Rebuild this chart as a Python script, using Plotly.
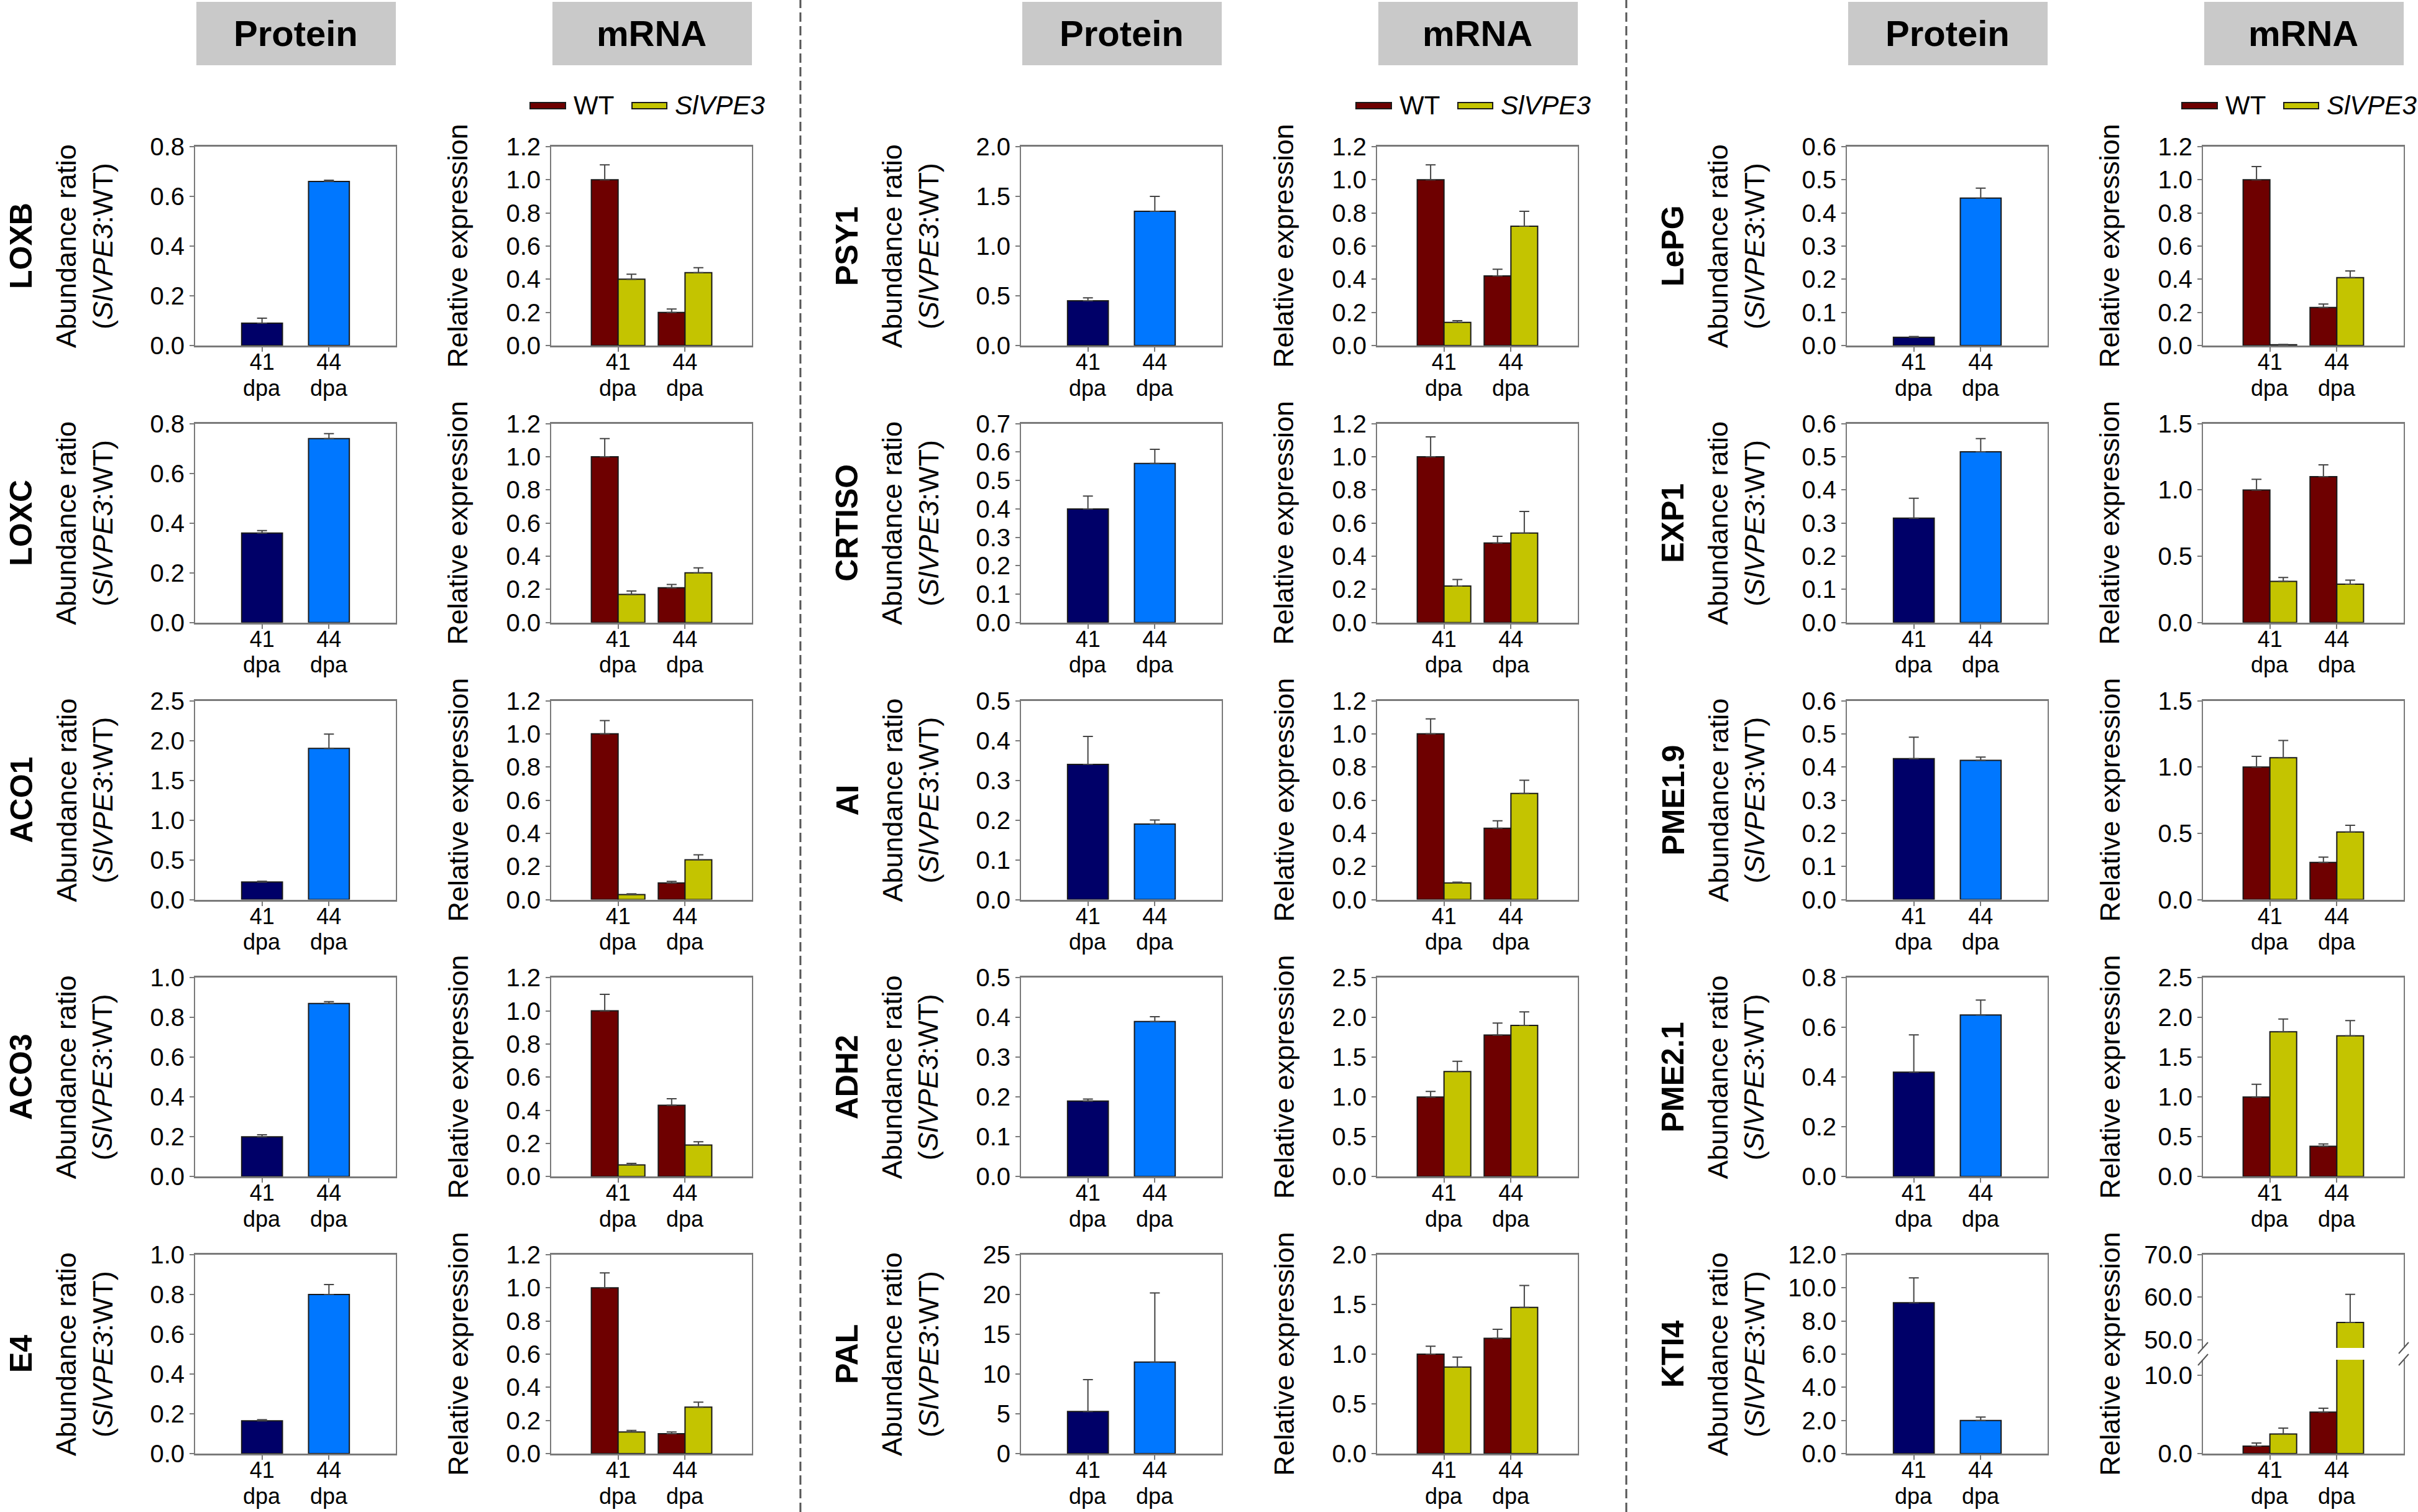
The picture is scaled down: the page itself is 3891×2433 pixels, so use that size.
import plotly.graph_objects as go

W, H = 3891, 2433
FONT = "Liberation Sans, Arial, Helvetica, sans-serif"

# ---------------- data ----------------
days = ["41", "44"]
genes = ["LOXB", "LOXC", "ACO1", "ACO3", "E4",
         "PSY1", "CRTISO", "AI", "ADH2", "PAL",
         "LePG", "EXP1", "PME1.9", "PME2.1", "KTI4"]

protein_mean = [[0.09, 0.66], [0.36, 0.74], [0.22, 1.90], [0.20, 0.87], [0.165, 0.80],
                [0.45, 1.35], [0.40, 0.56], [0.34, 0.19], [0.19, 0.39], [5.3, 11.5],
                [0.025, 0.445], [0.315, 0.515], [0.425, 0.42], [0.42, 0.65], [9.1, 2.0]]
protein_err = [[0.02, 0.005], [0.01, 0.02], [0.01, 0.18], [0.01, 0.01], [0.005, 0.05],
               [0.03, 0.15], [0.045, 0.05], [0.07, 0.01], [0.005, 0.012], [4.0, 8.7],
               [0.002, 0.03], [0.06, 0.04], [0.065, 0.01], [0.15, 0.06], [1.5, 0.2]]

wt_mean = [[1.0, 0.20], [1.0, 0.21], [1.0, 0.10], [1.0, 0.43], [1.0, 0.12],
           [1.0, 0.42], [1.0, 0.48], [1.0, 0.43], [1.0, 1.78], [1.0, 1.16],
           [1.0, 0.23], [1.0, 1.10], [1.0, 0.28], [1.0, 0.38], [0.95, 5.3]]
wt_err = [[0.09, 0.02], [0.11, 0.02], [0.08, 0.01], [0.10, 0.04], [0.09, 0.01],
          [0.09, 0.04], [0.12, 0.04], [0.09, 0.045], [0.07, 0.15], [0.08, 0.09],
          [0.08, 0.02], [0.08, 0.09], [0.08, 0.04], [0.16, 0.03], [0.4, 0.5]]
sl_mean = [[0.40, 0.44], [0.17, 0.30], [0.03, 0.24], [0.07, 0.19], [0.13, 0.28],
           [0.14, 0.72], [0.22, 0.54], [0.10, 0.64], [1.32, 1.90], [0.87, 1.47],
           [0.005, 0.41], [0.31, 0.29], [1.07, 0.51], [1.82, 1.77], [2.5, 54.1]]
sl_err = [[0.03, 0.03], [0.02, 0.03], [0.005, 0.03], [0.01, 0.02], [0.01, 0.03],
          [0.01, 0.09], [0.04, 0.13], [0.005, 0.08], [0.13, 0.17], [0.10, 0.22],
          [0.002, 0.04], [0.03, 0.03], [0.13, 0.05], [0.16, 0.19], [0.75, 6.6]]

protein_ymax = [0.8, 0.8, 2.5, 1.0, 1.0, 2.0, 0.7, 0.5, 0.5, 25, 0.6, 0.6, 0.6, 0.8, 12]
protein_dtick = [0.2, 0.2, 0.5, 0.2, 0.2, 0.5, 0.1, 0.1, 0.1, 5, 0.1, 0.1, 0.1, 0.2, 2]
mrna_ymax = [1.2, 1.2, 1.2, 1.2, 1.2, 1.2, 1.2, 1.2, 2.5, 2.0, 1.2, 1.5, 1.5, 2.5, None]
mrna_dtick = [0.2, 0.2, 0.2, 0.2, 0.2, 0.2, 0.2, 0.2, 0.5, 0.5, 0.2, 0.5, 0.5, 0.5, 10]
kti4_low_range = [0, 12]
kti4_high_range = [48.1, 70]

# ---------------- style / layout constants ----------------
NAVY, BLUE = "#000068", "#0077FF"
WT_C, SL_C = "#6E0000", "#C4C400"
OUTLINE = "#1a1a1a"
AXC = "#7a7a7a"
ERR = dict(color="#444444", thickness=2, width=8)

P_LEFT = [314, 1643, 2972]
M_LEFT = [887, 2216, 3545]
PW = 323
ROW_TOP0, ROW_STEP, PH = 236, 445.75, 320
XF = dict(family=FONT, size=36, color="black")
TICKF = dict(family=FONT, size=40, color="black")


def px(x):
    return x / W


def py(y):
    return 1 - y / H


fig = go.Figure()
layout = {}
shapes = []
annots = []
count = [0]


def axes(xl, top, bot, yrange, dtick, fmt, xkw=None, ykw=None):
    count[0] += 1
    n = count[0]
    xa = dict(domain=[px(xl), px(xl + PW)], anchor=f"y{n}", type="category",
              categoryorder="array", categoryarray=days, range=[-1, 2],
              showline=True, linecolor=AXC, linewidth=3, mirror=True,
              ticks="outside", ticklen=7, tickwidth=2, tickcolor=AXC,
              ticklabelstandoff=-14, automargin=False,
              tickfont=XF, showgrid=False, zeroline=False, fixedrange=True)
    ya = dict(domain=[py(bot), py(top)], anchor=f"x{n}", range=yrange,
              dtick=dtick, tick0=0, tickformat=fmt, automargin=False,
              showline=True, linecolor=AXC, linewidth=2, mirror=True,
              ticks="outside", ticklen=7, tickwidth=2, tickcolor=AXC,
              tickfont=TICKF, showgrid=False, zeroline=False, fixedrange=True)
    if xkw:
        xa.update(xkw)
    if ykw:
        ya.update(ykw)
    layout["xaxis" if n == 1 else f"xaxis{n}"] = xa
    layout["yaxis" if n == 1 else f"yaxis{n}"] = ya
    return ("x" if n == 1 else f"x{n}"), ("y" if n == 1 else f"y{n}")


def err(arr):
    return dict(type="data", array=arr, arrayminus=[0] * len(arr), symmetric=False, **ERR)


def mrna_traces(i, xr, yr):
    fig.add_trace(go.Bar(x=days, y=wt_mean[i], width=0.4, offset=-0.4,
                         marker=dict(color=WT_C, line=dict(color=OUTLINE, width=2)),
                         error_y=err(wt_err[i]), xaxis=xr, yaxis=yr, showlegend=False))
    fig.add_trace(go.Bar(x=days, y=sl_mean[i], width=0.4, offset=0,
                         marker=dict(color=SL_C, line=dict(color=OUTLINE, width=2)),
                         error_y=err(sl_err[i]), xaxis=xr, yaxis=yr, showlegend=False))


def dpa(xr, bot):
    for j, d in enumerate(days):
        annots.append(dict(text="dpa", x=j, xref=xr, y=py(bot + 68), yref="paper",
                           xanchor="center", yanchor="middle", showarrow=False,
                           font=XF))


for g in range(3):
    for r in range(5):
        i = g * 5 + r
        top = ROW_TOP0 + r * ROW_STEP
        bot = top + PH
        mid = (top + bot) / 2
        pfmt = "d" if genes[i] == "PAL" else ".1f"

        # protein panel
        xr, yr = axes(P_LEFT[g], top, bot, [0, protein_ymax[i]], protein_dtick[i], pfmt)
        fig.add_trace(go.Bar(x=days, y=protein_mean[i], width=0.61,
                             marker=dict(color=[NAVY, BLUE], line=dict(color=OUTLINE, width=2)),
                             error_y=err(protein_err[i]), xaxis=xr, yaxis=yr, showlegend=False))
        dpa(xr, bot)

        # mRNA panel
        if mrna_ymax[i] is not None:
            xr, yr = axes(M_LEFT[g], top, bot, [0, mrna_ymax[i]], mrna_dtick[i], ".1f")
            mrna_traces(i, xr, yr)
            dpa(xr, bot)
        else:
            low_top = bot - 151
            up_bot = top + 150
            xr, yr = axes(M_LEFT[g], low_top, bot, kti4_low_range, mrna_dtick[i], ".1f",
                          xkw=dict(mirror=False))
            mrna_traces(i, xr, yr)
            dpa(xr, bot)
            xr2, yr2 = axes(M_LEFT[g], top, up_bot, kti4_high_range, mrna_dtick[i], ".1f",
                            xkw=dict(mirror=False, side="top", ticks="", showticklabels=False))
            mrna_traces(i, xr2, yr2)
            for xe in (M_LEFT[g], M_LEFT[g] + PW):
                for yc in (up_bot, low_top):
                    shapes.append(dict(type="line", xref="paper", yref="paper",
                                       x0=px(xe - 8), y0=py(yc + 9), x1=px(xe + 8), y1=py(yc - 9),
                                       line=dict(color="#555555", width=2)))

        # gene label
        annots.append(dict(text=f"<b>{genes[i]}</b>", x=px(P_LEFT[g] - 280), y=py(mid),
                           xref="paper", yref="paper", textangle=-90, showarrow=False,
                           xanchor="center", yanchor="middle",
                           font=dict(family=FONT, size=50, color="black")))
        # protein y title
        annots.append(dict(text="Abundance ratio<br>(<i>SlVPE3</i>:WT)",
                           x=px(P_LEFT[g] - 178), y=py(mid), xref="paper", yref="paper",
                           textangle=-90, showarrow=False, xanchor="center", yanchor="middle",
                           font=dict(family=FONT, size=45, color="black")))
        # mRNA y title
        annots.append(dict(text="Relative expression",
                           x=px(M_LEFT[g] - 150), y=py(mid), xref="paper", yref="paper",
                           textangle=-90, showarrow=False, xanchor="center", yanchor="middle",
                           font=dict(family=FONT, size=45, color="black")))

    # headers
    for left, label in ((P_LEFT[g], "Protein"), (M_LEFT[g], "mRNA")):
        shapes.append(dict(type="rect", xref="paper", yref="paper",
                           x0=px(left + 2), x1=px(left + PW), y0=py(105), y1=py(3),
                           fillcolor="#C9C9C9", line=dict(width=0), layer="below"))
        annots.append(dict(text=f"<b>{label}</b>", x=px(left + PW / 2), y=py(54),
                           xref="paper", yref="paper", showarrow=False,
                           xanchor="center", yanchor="middle",
                           font=dict(family=FONT, size=58, color="black")))

    # legend
    ml = M_LEFT[g]
    for x0, x1, col, tx, txt in ((ml - 34, ml + 23, WT_C, ml + 34, "WT"),
                                 (ml + 130, ml + 186, SL_C, ml + 197, "<i>SlVPE3</i>")):
        shapes.append(dict(type="rect", xref="paper", yref="paper",
                           x0=px(x0), x1=px(x1), y0=py(175), y1=py(165),
                           fillcolor=col, line=dict(color=OUTLINE, width=2)))
        annots.append(dict(text=txt, x=px(tx), y=py(170), xref="paper", yref="paper",
                           showarrow=False, xanchor="left", yanchor="middle",
                           font=dict(family=FONT, size=42, color="black")))

# dashed separators
for xs in (1288, 2617):
    shapes.append(dict(type="line", xref="paper", yref="paper",
                       x0=px(xs), x1=px(xs), y0=0, y1=1,
                       line=dict(color="#555555", width=3, dash="15px,7px")))

fig.update_layout(**layout)
fig.update_layout(autosize=True,
                  margin=dict(l=0, r=0, t=0, b=0, pad=0, autoexpand=False),
                  paper_bgcolor="white", plot_bgcolor="white",
                  barmode="overlay", showlegend=False,
                  font=dict(family=FONT, color="black"),
                  shapes=shapes, annotations=annots)

fig.write_html(
    "out.html",
    default_width="100vw",
    default_height="100vh",
    config={"displayModeBar": False, "responsive": True},
    post_script=("document.documentElement.style.margin='0';"
                 "document.body.style.margin='0';"
                 "document.documentElement.style.overflow='hidden';"
                 "document.body.style.overflow='hidden';"),
)
